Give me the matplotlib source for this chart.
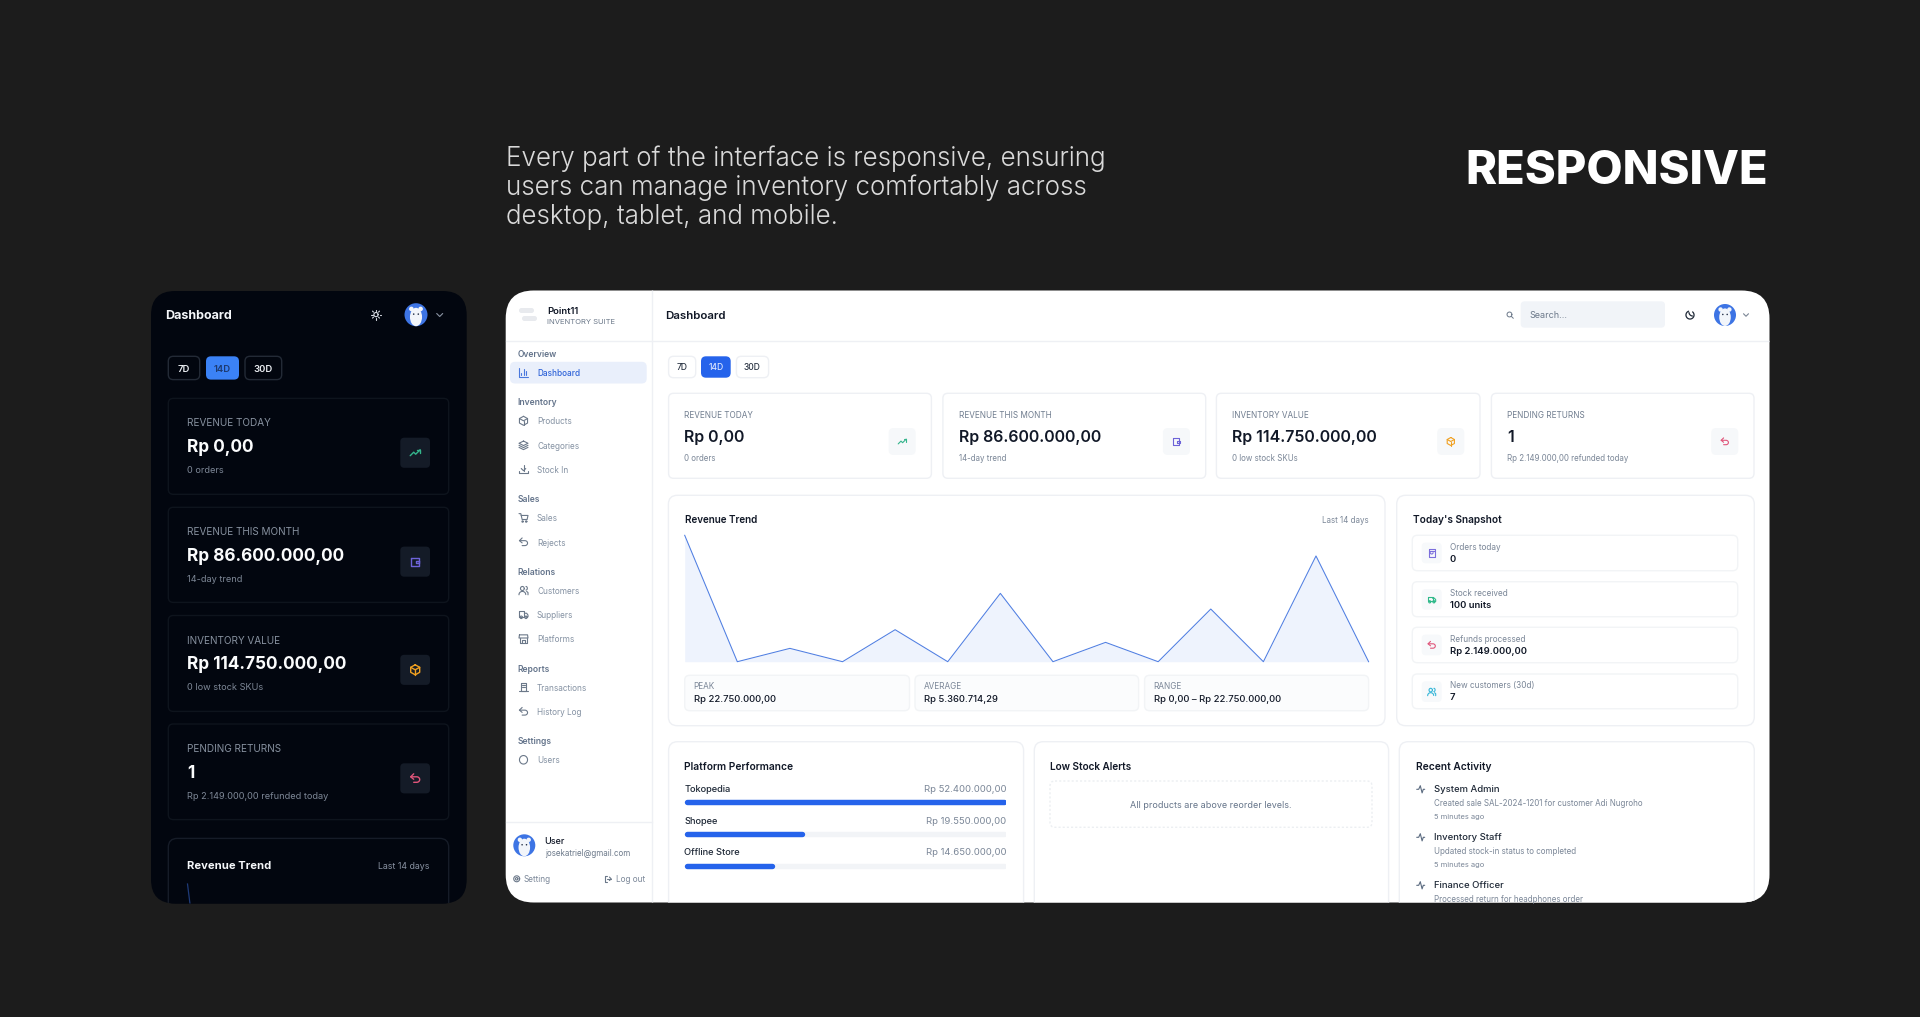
import numpy as np
import matplotlib
matplotlib.use("Agg")
import matplotlib.pyplot as plt
from matplotlib.patches import FancyBboxPatch, Circle, Ellipse

plt.rcParams['font.family'] = ['Inter', 'DejaVu Sans']

# data
trend_values = [22.75, 0, 2.4, 0, 5.76, 0, 12.3, 0, 3.48, 0, 9.48, 0, 19.03, 0]
platform_names = ["Tokopedia", "Shopee", "Offline Store"]
platform_values = [52.4, 19.55, 14.65]
platform_labels = ["Rp 52.400.000,00", "Rp 19.550.000,00", "Rp 14.650.000,00"]

kpi_titles = ["REVENUE TODAY", "REVENUE THIS MONTH", "INVENTORY VALUE", "PENDING RETURNS"]
kpi_values = ["Rp 0,00", "Rp 86.600.000,00", "Rp 114.750.000,00", "1"]
kpi_subs = ["0 orders", "14-day trend", "0 low stock SKUs", "Rp 2.149.000,00 refunded today"]
kpi_icons = ["trend", "wallet", "box", "undo"]
kpi_colors = ["#34b58c", "#6d63d8", "#f0a020", "#e0557a"]

ranges = ["7D", "14D", "30D"]
stat_titles = ["PEAK", "AVERAGE", "RANGE"]
stat_values = ["Rp 22.750.000,00", "Rp 5.360.714,29", "Rp 0,00 – Rp 22.750.000,00"]

nav_sections = ["Overview", "Inventory", "Sales", "Relations", "Reports", "Settings"]
nav_items = [["Dashboard"], ["Products", "Categories", "Stock In"], ["Sales", "Rejects"],
             ["Customers", "Suppliers", "Platforms"], ["Transactions", "History Log"], ["Users"]]
nav_icons = [["chart"], ["box", "layers", "download"], ["cart", "undo"],
             ["users", "truck", "store"], ["receipt", "undo"], ["shield"]]

snap_labels = ["Orders today", "Stock received", "Refunds processed", "New customers (30d)"]
snap_values = ["0", "100 units", "Rp 2.149.000,00", "7"]
snap_icons = ["bag", "truck", "undo", "users"]
snap_colors = ["#7c6fdc", "#2fb98a", "#e0557a", "#35b6d8"]

activity_names = ["System Admin", "Inventory Staff", "Finance Officer"]
activity_desc = ["Created sale SAL-2024-1201 for customer Adi Nugroho",
                 "Updated stock-in status to completed",
                 "Processed return for headphones order"]
activity_time = ["5 minutes ago", "5 minutes ago", ""]

heading = "RESPONSIVE"
intro = ["Every part of the interface is responsive, ensuring",
         "users can manage inventory comfortably across",
         "desktop, tablet, and mobile."]

BG = "#1c1c1c"
PHONE = "#02060f"
PHONE_LINE = "#0e141d"
LINE = "#eef0f4"
INK = "#111827"
BLUE = "#2563eb"

fig = plt.figure(figsize=(19.2, 10.17), dpi=100, facecolor=BG)
ax = fig.add_axes([0, 0, 1, 1])
ax.set_xlim(0, 1920)
ax.set_ylim(1017, 0)
ax.axis("off")

clip_to = None


def clipped(art):
    if clip_to is not None:
        art.set_clip_path(clip_to)
        art.set_clip_on(True)
    return art


def box(x0, y0, x1, y1, r=6, fc="white", ec="none", lw=1, ls="-", z=2):
    p = FancyBboxPatch((x0, y0), x1 - x0, y1 - y0, boxstyle=f"round,pad=0,rounding_size={r}",
                       fc=fc, ec=ec, lw=lw, ls=ls, zorder=z)
    ax.add_patch(p)
    return clipped(p)


def txt(x, y, s, px=10, c=INK, w=400, ha="left", font=None, z=5):
    t = ax.text(x, y, s, fontsize=px * 0.72, color=c, fontweight=w, ha=ha, va="center_baseline",
                zorder=z, family=font or ['Inter', 'DejaVu Sans'])
    t.set_clip_on(False)
    return clipped(t) if clip_to is not None else t


def arc(cx, cy, rx, ry, a0, a1):
    a = np.radians(np.linspace(a0, a1, 24))
    return list(zip(cx + rx * np.cos(a), cy + ry * np.sin(a)))


ICONS = {
    "trend": [[(-1, .6), (-.3, -.1), (.1, .3), (1, -.6)], [(.4, -.6), (1, -.6), (1, 0)]],
    "wallet": [[(-.8, -.8), (.7, -.8), (.7, .8), (-.8, .8), (-.8, -.8)], [(.8, -.2), (.2, -.2), (.2, .3), (.8, .3), (.8, -.2)]],
    "box": [[(0, -1), (.9, -.5), (.9, .5), (0, 1), (-.9, .5), (-.9, -.5), (0, -1)], [(-.9, -.5), (0, 0), (.9, -.5)], [(0, 0), (0, 1)]],
    "undo": [[(-.3, -.9), (-.9, -.3), (-.3, .2)], [(-.9, -.3), (.3, -.3)] + arc(.3, .25, .6, .55, -90, 90) + [(-.3, .8)]],
    "chart": [[(-1, -1), (-1, 1), (1, 1)], [(-.5, .6), (-.5, 0)], [(0, .6), (0, -.8)], [(.5, .6), (.5, -.3)]],
    "layers": [[(0, -.9), (1, -.4), (0, .1), (-1, -.4), (0, -.9)], [(-1, .05), (0, .55), (1, .05)], [(-1, .5), (0, 1), (1, .5)]],
    "download": [[(0, -1), (0, .3)], [(-.5, -.2), (0, .3), (.5, -.2)], [(-1, .4), (-1, .9), (1, .9), (1, .4)]],
    "cart": [[(-1, -.9), (-.6, -.9), (-.3, .4), (.8, .4), (1, -.5), (-.5, -.5)], arc(-.2, .85, .15, .15, 0, 360), arc(.6, .85, .15, .15, 0, 360)],
    "users": [arc(-.25, -.4, .42, .45, 0, 360), [(-1, 1)] + arc(-.25, .95, .75, .7, 180, 360), arc(.55, -.45, .3, .4, -90, 90), [(.7, .25), (1, .5), (1, 1)]],
    "truck": [[(-1, -.7), (.2, -.7), (.2, .5), (-1, .5), (-1, -.7)], [(.2, -.3), (.7, -.3), (1, .1), (1, .5), (.2, .5)], arc(-.5, .6, .25, .28, 0, 360), arc(.55, .6, .25, .28, 0, 360)],
    "store": [[(-.9, -.9), (.9, -.9), (1, -.2), (-1, -.2), (-.9, -.9)], [(-.85, -.2), (-.85, .9), (.85, .9), (.85, -.2)], [(-.3, .9), (-.3, .3), (.3, .3), (.3, .9)]],
    "receipt": [[(-.6, -.9), (.6, -.9), (.6, .9), (-.6, .9), (-.6, -.9)], [(-.3, -.4), (.3, -.4)], [(-.3, 0), (.3, 0)], [(-1, .9), (1, .9)]],
    "shield": [arc(0, 0, .9, .95, 0, 360)],
    "search": [arc(-.15, -.15, .7, .7, 0, 360), [(.35, .35), (.95, .95)]],
    "moon": [arc(0, 0, .9, .9, -50, 250)[0:], arc(.62, -.62, .85, .85, 95, 175)],
    "sun": [arc(0, 0, .42, .42, 0, 360), [(0, -1), (0, -.7)], [(0, 1), (0, .7)], [(-1, 0), (-.7, 0)], [(1, 0), (.7, 0)],
            [(-.7, -.7), (-.5, -.5)], [(.7, .7), (.5, .5)], [(-.7, .7), (-.5, .5)], [(.7, -.7), (.5, -.5)]],
    "gear": [arc(0, 0, .85, .85, 0, 360), arc(0, 0, .35, .35, 0, 360)],
    "logout": [[(-.3, -.9), (-.9, -.9), (-.9, .9), (-.3, .9)], [(-.3, 0), (.9, 0)], [(.4, -.5), (.9, 0), (.4, .5)]],
    "activity": [[(-1, 0), (-.5, 0), (-.1, -.9), (.35, .9), (.65, 0), (1, 0)]],
    "bag": [[(-.8, -.9), (.8, -.9), (.8, .9), (-.8, .9), (-.8, -.9)], [(-.8, -.45), (.8, -.45)], arc(0, -.1, .35, .35, 0, 180)],
    "chevron": [[(-1, -.5), (0, .5), (1, -.5)]],
}


def icon(name, cx, cy, s, c, lw=0.8):
    for seg in ICONS[name]:
        pts = np.array(seg)
        line, = ax.plot(cx + pts[:, 0] * s, cy + pts[:, 1] * s, color=c, lw=lw, zorder=6,
                        solid_capstyle="round", solid_joinstyle="round")
        clipped(line)


def avatar(cx, cy, r):
    for art in [Circle((cx, cy), r, fc="#3d74e4", ec="none", zorder=6),
                Ellipse((cx, cy + .2 * r), 1.05 * r, 1.6 * r, fc="#f2f5fa", ec="none", zorder=7),
                Circle((cx - .4 * r, cy - .5 * r), .2 * r, fc="#f2f5fa", ec="none", zorder=7),
                Circle((cx + .4 * r, cy - .5 * r), .2 * r, fc="#f2f5fa", ec="none", zorder=7),
                Circle((cx - .2 * r, cy - .05 * r), .07 * r, fc="#253046", ec="none", zorder=8),
                Circle((cx + .2 * r, cy - .05 * r), .07 * r, fc="#253046", ec="none", zorder=8)]:
        ax.add_patch(art)
        clipped(art)


# heading row
txt(1768.5, 167, heading, 47, "white", 800, ha="right")
for i, line in enumerate(intro):
    txt(505.5, 155.5 + i * 29.4, line, 26, "#d9d9d9", 300)

# phone panel
phone = box(151, 291, 466.7, 903.5, r=24, fc=PHONE)
clip_to = phone
txt(165.2, 314.5, "Dashboard", 12.5, "#f5f7fa", 700)
icon("sun", 376, 314.6, 5, "#d8dce4")
avatar(416, 314.7, 11.5)
icon("chevron", 439.7, 315, 3, "#8a93a3")
for (x0, x1), lab, on in zip([(168.3, 199.7), (206, 239), (245, 281.7)], ranges, [False, True, False]):
    box(x0, 356.3, x1, 379.6, r=5, fc="#3b82f6" if on else PHONE, ec="none" if on else "#232a36", z=3)
    txt((x0 + x1) / 2, 368, lab, 9.5, "#1d3a70" if on else "#eef1f5", 600, ha="center")
phone_cards = [(398.4, 494.3), (507.3, 602.4), (615.5, 711.4), (724, 819.6)]
for (y0, y1), a, b, c, ic, col in zip(phone_cards, kpi_titles, kpi_values, kpi_subs, kpi_icons, kpi_colors):
    box(168.3, y0, 448.7, y1, r=5, fc=PHONE, ec=PHONE_LINE)
    txt(187.3, y0 + 24, a, 10, "#87919f")
    txt(187.3, y0 + 47.3, b, 17.2, "#fbfcfd", 700)
    txt(187.3, y0 + 71.5, c, 9.2, "#7d8796")
    box(400.3, y0 + 39.3, 430, y0 + 69.4, r=4, fc="#141b27", z=3)
    icon(ic, 415.2, y0 + 54.3, 5, col, 1.0)
box(168.3, 838.4, 448.7, 960, r=9, fc=PHONE, ec="#161c28")
txt(187.3, 865.3, "Revenue Trend", 11.2, "#f5f7fa", 700)
txt(430, 865.3, "Last 14 days", 8.8, "#8a93a3", ha="right")
ax.plot([187.5, 190], [884, 904], color="#1e3a78", lw=0.9, zorder=4)[0].set_clip_path(phone)

# desktop panel
clip_to = None
main = box(505.7, 290.5, 1769.5, 902.5, r=28, fc="white", z=1.5)
clip_to = main
ax.plot([652.3, 652.3], [290, 902], color=LINE, lw=1, zorder=2)[0].set_clip_path(main)
ax.plot([505.7, 1770], [340.5, 340.5], color=LINE, lw=1, zorder=2)[0].set_clip_path(main)
ax.plot([505.7, 652.3], [822, 822], color=LINE, lw=1, zorder=2)[0].set_clip_path(main)

# sidebar
box(519, 308, 534, 313, r=2.5, fc="#e8eaee")
box(522, 316, 537, 321, r=2.5, fc="#e8eaee")
txt(547, 310.2, "Point11", 9.5, INK, 600)
txt(547, 321, "INVENTORY SUITE", 7.7, "#6b7889")
y = 353.5
for s_name, items, icons in zip(nav_sections, nav_items, nav_icons):
    txt(517.7, y, s_name, 8.5, "#64748b", 600)
    y += 19
    for item, ic in zip(items, icons):
        if item == "Dashboard":
            box(510, y - 10.7, 646.7, y + 11, r=5, fc="#e9effb")
            txt(537, y, item, 8.2, "#2d62d8", 500)
            icon(ic, 523.5, y, 4.5, "#4a78dd")
        else:
            txt(537, y, item, 8.2, "#8592a3")
            icon(ic, 523.5, y, 4.5, "#6b7889")
        y += 24.3
    y += 5
avatar(524.3, 845.3, 11)
txt(544.7, 840.4, "User", 9, INK, 500)
txt(544.7, 852, "josekatriel@gmail.com", 8, "#6b7889")
icon("gear", 516.7, 878.8, 3.5, "#6b7889")
txt(524, 878.8, "Setting", 8.2, "#7c8899")
icon("logout", 608, 878.8, 3.5, "#6b7889")
txt(615.7, 878.8, "Log out", 8.2, "#7c8899")

# top bar
txt(665, 315, "Dashboard", 11.5, INK, 600)
icon("search", 1510, 315, 3.5, "#6b7889", 0.7)
box(1520.7, 301.3, 1665, 327.7, r=4, fc="#f1f4f8")
txt(1529, 315, "Search...", 9, "#6b7889")
icon("moon", 1690, 315, 4.5, "#1f2937", 0.9)
avatar(1725, 315, 11)
icon("chevron", 1746, 315, 2.5, "#7b8695")

for (x0, x1), lab, on in zip([(668.6, 695.7), (701, 730.7), (736.4, 768.6)], ranges, [False, True, False]):
    box(x0, 356.3, x1, 377.7, r=5, fc=BLUE if on else "white", ec="none" if on else LINE, z=3)
    txt((x0 + x1) / 2, 367, lab, 8.5, "#d9e5ff" if on else "#2b3544", 500, ha="center")

# kpi cards
card_x = [(668.6, 931.4), (942.9, 1205.7), (1216.4, 1480), (1491.4, 1754)]
for (x0, x1), a, b, c, ic, col in zip(card_x, kpi_titles, kpi_values, kpi_subs, kpi_icons, kpi_colors):
    box(x0, 393.3, x1, 478.3, r=5, ec=LINE)
    txt(x0 + 15.7, 415, a, 8.2, "#707d8f")
    txt(x0 + 15.7, 436, b, 15.9, INK, 600)
    txt(x0 + 15.7, 457.3, c, 7.9, "#7a8697")
    box(x1 - 42.8, 428, x1 - 15.7, 455, r=5, fc="#f6f8fa")
    icon(ic, x1 - 29.2, 441.5, 4, col)

# revenue trend panel
box(668.4, 495.3, 1385, 725.7, r=9, ec=LINE)
txt(684.7, 519.3, "Revenue Trend", 9.9, INK, 600)
txt(1368.6, 519.3, "Last 14 days", 8, "#7a8697", ha="right")
trend_ax = fig.add_axes([684.7 / 1920, 1 - 661.7 / 1017, (1368.6 - 684.7) / 1920, (661.7 - 535.3) / 1017])
trend_ax.set_xlim(0, len(trend_values) - 1)
trend_ax.set_ylim(0, max(trend_values))
trend_ax.axis("off")
days = np.arange(len(trend_values))
trend_ax.fill_between(days, trend_values, 0, color="#eef3fd", lw=0)
trend_ax.plot(days, trend_values, color="#4f7ee2", lw=0.75, clip_on=False)

for (x0, x1), a, b in zip([(684.7, 909.5), (915, 1138.6), (1144.6, 1368.6)], stat_titles, stat_values):
    box(x0, 675.3, x1, 710.7, r=5, fc="#fbfcfd", ec="#f2f4f6")
    txt(x0 + 9, 685.7, a, 8.2, "#7a8697")
    txt(x0 + 9, 698, b, 9.5, INK, 500)

# snapshot panel
box(1396.7, 495.3, 1754.3, 725.7, r=9, ec=LINE)
txt(1413, 519.3, "Today's Snapshot", 10.1, INK, 600)
for (y0, y1), a, b, ic, col in zip([(535.3, 570.7), (581.7, 616.7), (627.3, 662.7), (674, 708.7)],
                                   snap_labels, snap_values, snap_icons, snap_colors):
    box(1412.3, y0, 1737.7, y1, r=5, ec="#f2f4f6")
    box(1421.7, y0 + 7.3, 1441.7, y0 + 28, r=4, fc="#f7f9fb")
    icon(ic, 1431.7, y0 + 17.7, 4, col)
    txt(1450, y0 + 10.7, a, 8.2, "#7a8697")
    txt(1450, y0 + 23, b, 9.5, INK, 600)

# platform panel
box(668.6, 741.7, 1023.6, 960, r=9, ec=LINE)
txt(684.3, 765.7, "Platform Performance", 10.2, INK, 600)
for i, (name, lab) in enumerate(zip(platform_names, platform_labels)):
    txt(684.3, 788.3 + i * 31.7, name, 9.3, "#1f2937", 500)
    txt(1006.4, 788.3 + i * 31.7, lab, 9.5, "#7a8697", ha="right")
bar_ax = fig.add_axes([684.3 / 1920, 1 - 871 / 1017, (1006.4 - 684.3) / 1920, (871 - 797.5) / 1017])
bar_ax.set_xlim(0, max(platform_values))
bar_ax.set_ylim(2.0 + (871 - 865.8) / 31.7, -(802.5 - 797.5) / 31.7)
bar_ax.axis("off")
end_pad = 2.5 / 322 * max(platform_values)
for i, v in enumerate(platform_values):
    bar_ax.hlines(i, end_pad, max(platform_values) - end_pad, color="#f2f4f7", lw=3.9, capstyle="round")
    bar_ax.hlines(i, end_pad, v - end_pad, color=BLUE, lw=3.9, capstyle="round")

# low stock panel
box(1034.3, 741.7, 1388.6, 960, r=9, ec=LINE)
txt(1050, 765.7, "Low Stock Alerts", 10, INK, 600)
box(1050, 781, 1372, 827.3, r=5, ec="#eceff2", ls=(0, (1.5, 1.5)))
txt(1211, 805, "All products are above reorder levels.", 9, "#66758a", ha="center")

# recent activity panel
box(1399.3, 741.7, 1754.3, 960, r=9, ec=LINE)
txt(1416, 765.7, "Recent Activity", 10.2, INK, 600)
for i, (a, b, c) in enumerate(zip(activity_names, activity_desc, activity_time)):
    y = 788.3 + i * 48
    icon("activity", 1420.7, y + 1, 4, "#5b6b80")
    txt(1434.3, y, a, 9.5, "#1f2937", 500)
    txt(1434.3, y + 14.5, b, 8, "#7a8697")
    if c:
        txt(1434.3, y + 27.8, c, 7.5, "#7a8697")

fig.savefig("out.png", dpi=100, facecolor=BG)
